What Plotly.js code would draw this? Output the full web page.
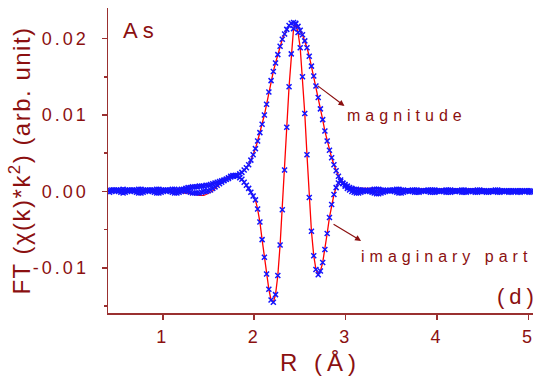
<!DOCTYPE html>
<html><head><meta charset="utf-8">
<script src="https://cdn.plot.ly/plotly-3.0.1.min.js"></script>
<style>
html,body{margin:0;padding:0;background:#fff;}
#chart{width:544px;height:380px;}
.xtick text,.ytick text{letter-spacing:3px;}
.g-xtitle text{letter-spacing:5px;}
.g-ytitle text{letter-spacing:1.5px;}
.annotation-text{letter-spacing:5px;}
</style></head><body><div id="chart"></div>
<script>
// R grid (Å)
const R = [
0.417,0.442,0.466,0.491,0.515,0.540,0.565,0.589,0.614,0.638,
0.663,0.687,0.712,0.736,0.761,0.785,0.810,0.834,0.859,0.884,
0.908,0.933,0.957,0.982,1.006,1.031,1.055,1.080,1.104,1.129,
1.154,1.178,1.203,1.227,1.252,1.276,1.301,1.325,1.350,1.374,
1.399,1.424,1.448,1.473,1.497,1.522,1.546,1.571,1.595,1.620,
1.644,1.669,1.694,1.718,1.743,1.767,1.792,1.816,1.841,1.865,
1.890,1.914,1.939,1.963,1.988,2.013,2.037,2.062,2.086,2.111,
2.135,2.160,2.184,2.209,2.233,2.258,2.283,2.307,2.332,2.356,
2.381,2.405,2.430,2.454,2.479,2.503,2.528,2.553,2.577,2.602,
2.626,2.651,2.675,2.700,2.724,2.749,2.773,2.798,2.823,2.847,
2.872,2.896,2.921,2.945,2.970,2.994,3.019,3.043,3.068,3.093,
3.117,3.142,3.166,3.191,3.215,3.240,3.264,3.289,3.313,3.338,
3.362,3.387,3.412,3.436,3.461,3.485,3.510,3.534,3.559,3.583,
3.608,3.632,3.657,3.682,3.706,3.731,3.755,3.780,3.804,3.829,
3.853,3.878,3.902,3.927,3.952,3.976,4.001,4.025,4.050,4.074,
4.099,4.123,4.148,4.172,4.197,4.222,4.246,4.271,4.295,4.320,
4.344,4.369,4.393,4.418,4.442,4.467,4.492,4.516,4.541,4.565,
4.590,4.614,4.639,4.663,4.688,4.712,4.737,4.761,4.786,4.810,
4.835,4.860,4.884,4.909,4.933,4.958,4.982,5.007,5.031];

// values in units of 1e-4
const magData = [
2,2,2,2,2,2,3,2,2,2,
2,2,2,3,3,2,2,2,2,2,
2,3,3,2,2,2,2,2,3,3,
2,2,3,3,4,5,5,6,6,6,
7,7,7,8,8,9,10,11,12,13,
14,15,16,18,20,21,21,21,23,25,
28,31,35,41,48,56,66,77,88,100,
114,130,145,157,168,179,190,199,206,212,
217,220,221,220,216,211,205,197,188,177,
164,151,138,123,108,94,79,66,54,44,
35,27,20,15,11,9,7,5,4,3,
3,2,2,2,1,1,2,2,3,3,
3,2,2,1,1,1,2,2,3,3,
2,2,1,1,1,2,2,2,1,1,
1,1,2,2,2,2,1,1,1,1,
2,2,2,1,1,1,1,2,2,1,
1,1,1,1,2,2,1,1,1,1,
1,1,2,2,1,1,1,1,1,1,
1,1,1,1,1,1,1,1,1];

const imagData = [
-1,0,1,1,0,-1,-2,-1,0,1,
1,0,-1,-2,-2,-1,0,1,1,0,
-1,-2,-2,-1,0,1,1,0,-1,-2,
-2,-1,0,1,1,0,-1,-2,-2,-2,
-2,-1,0,0,1,2,4,6,8,10,
12,14,16,17,19,20,21,20,18,16,
12,8,4,-1,-6,-11,-23,-40,-63,-86,
-108,-128,-142,-145,-135,-110,-70,-24,28,84,
137,180,213,219,208,188,150,102,48,-8,
-52,-84,-102,-109,-104,-93,-76,-55,-34,-17,
-4,5,11,13,10,7,4,2,0,-1,
-2,-2,-1,0,1,1,0,-1,-2,-3,
-3,-2,-1,0,1,2,1,0,-1,-2,
-2,-1,0,1,1,0,-1,-1,-1,0,
1,1,0,-1,-1,-1,0,0,1,0,
-1,-1,-1,0,0,1,0,-1,-1,-1,
0,1,0,-1,-1,0,0,0,-1,-1,
0,0,0,-1,-1,0,0,0,-1,-1,
0,0,-1,-1,0,0,0,-1,-1];

const magFit = [
2,2,2,2,2,2,2,2,2,2,
2,2,2,2,2,2,2,2,2,2,
2,2,2,2,2,2,2,2,3,3,
3,3,4,4,5,5,6,6,6,7,
7,7,8,8,8,9,10,11,12,13,
14,15,17,19,21,22,22,22,23,25,
28,31,35,41,48,56,66,77,88,100,
114,130,145,157,168,179,190,199,206,212,
217,220,221,220,216,211,205,197,188,177,
164,151,138,123,108,94,79,66,54,44,
35,27,21,16,12,9,7,6,5,5,
4,4,4,4,4,4,4,4,4,4,
4,4,3,3,3,3,3,3,3,3,
3,3,3,3,3,3,3,3,3,3,
3,3,3,3,3,3,3,3,3,3,
3,3,3,3,3,3,3,3,3,3,
3,3,3,3,3,3,3,3,2,2,
2,2,2,2,2,2,2,2,2,2,
2,2,2,2,2,2,2,2,2];

const imagFit = [
-1,0,1,1,0,-1,-1,-1,0,1,
1,0,-1,-1,-1,-1,0,1,1,0,
-1,-1,-1,-1,0,0,0,0,-1,-1,
-1,-1,-1,-2,-2,-2,-3,-3,-4,-4,
-5,-5,-5,-4,-3,-1,1,4,7,9,
12,14,17,19,21,22,21,20,18,16,
12,8,4,-1,-6,-11,-23,-40,-63,-86,
-108,-128,-142,-145,-135,-110,-70,-24,28,84,
137,180,213,219,208,188,150,102,48,-8,
-52,-84,-102,-109,-104,-93,-76,-55,-34,-17,
-4,5,11,13,10,7,4,2,1,0,
0,-1,-1,-1,0,0,0,0,-1,-1,
-1,-1,0,0,1,1,0,0,-1,-1,
0,0,0,0,0,0,0,0,0,0,
0,0,0,0,0,0,0,0,0,0,
0,0,0,0,0,0,0,0,0,0,
0,0,0,0,0,0,0,0,0,0,
0,0,0,0,0,0,0,0,0,0,
0,0,0,0,0,0,0,0,0];

const UNIT = 1e-4;
const xTickVals = [1,2,3,4,5];
const yTickVals = [-0.01,0,0.01,0.02];
const yTickText = ['-0.01','0.00','0.01','0.02'];
const yMinorVals = [-0.015,-0.005,0.005,0.015];
const elementLabel = 'As';
const panelLabel = '(d)';
const magLabel = 'magnitude';
const imagLabel = 'imaginary part';

const TXT = '#8b1010';
const AX = '#9a3030';
const FONT = 'Liberation Sans, Arial, sans-serif';
const sc = a => a.map(v => v*UNIT);

const fitStyle = {mode:'lines', line:{color:'#ff0000', width:1.3}, hoverinfo:'skip'};
const dataStyle = {mode:'markers', marker:{symbol:'x-thin', size:5, color:'#1414ff', line:{color:'#1414ff', width:1.5}}, hoverinfo:'skip'};

const traces = [
  Object.assign({x:R, y:sc(magFit), name:'magnitude fit'}, fitStyle),
  Object.assign({x:R, y:sc(imagFit), name:'imaginary fit'}, fitStyle),
  Object.assign({x:R, y:sc(magData), name:'magnitude data'}, dataStyle),
  Object.assign({x:R, y:sc(imagData), name:'imaginary data'}, dataStyle)
];

const layout = {
  width:544, height:380,
  margin:{l:108, r:11, t:8, b:67},
  paper_bgcolor:'#fff', plot_bgcolor:'#fff',
  showlegend:false,
  font:{family:FONT, color:TXT, size:18},
  xaxis:{
    range:[0.4,5.05], tickmode:'array', tickvals:xTickVals,
    ticks:'outside', ticklen:5, tickwidth:1.5, tickcolor:AX,
    showline:true, linecolor:AX, linewidth:1.5,
    showgrid:false, zeroline:false, ticklabelstandoff:2,
    tickfont:{size:18, color:TXT, family:FONT},
    title:{text:'R (Å)', font:{size:24, color:TXT, family:FONT}, standoff:8}
  },
  yaxis:{
    range:[-0.0159,0.024], tickmode:'array', tickvals:yTickVals, ticktext:yTickText,
    ticks:'outside', ticklen:5, tickwidth:1.5, tickcolor:AX,
    minor:{tickmode:'array', tickvals:yMinorVals, ticks:'outside', ticklen:3, tickwidth:1.5, tickcolor:AX, showgrid:false},
    showline:true, linecolor:AX, linewidth:1.5,
    showgrid:false, zeroline:false, ticklabelstandoff:9,
    tickfont:{size:18, color:TXT, family:FONT},
    title:{text:'FT (χ(k)*k<sup>2</sup>) (arb. unit)', font:{size:24, color:TXT, family:FONT}, standoff:2}
  },
  annotations:[
    {x:0.54, y:0.0211, xref:'x', yref:'y', xanchor:'left', yanchor:'middle', text:elementLabel, showarrow:false, font:{size:22, color:TXT, family:FONT}},
    {x:1, y:-0.0138, xref:'paper', yref:'y', xanchor:'right', yanchor:'middle', xshift:8, text:panelLabel, showarrow:false, font:{size:22, color:TXT, family:FONT}},
    {x:2.99, y:0.0100, xref:'x', yref:'y', xanchor:'left', yanchor:'middle', text:magLabel, showarrow:false, font:{size:16, color:TXT, family:FONT}},
    {x:3.15, y:-0.0085, xref:'x', yref:'y', xanchor:'left', yanchor:'middle', text:imagLabel, showarrow:false, font:{size:16, color:TXT, family:FONT}},
    {x:2.987, y:0.01118, ax:2.659, ay:0.01414, xref:'x', yref:'y', axref:'x', ayref:'y', text:' ', showarrow:true, arrowhead:2, arrowsize:1, arrowwidth:1.2, arrowcolor:TXT, standoff:0, startstandoff:0, font:{size:2}},
    {x:3.169, y:-0.00647, ax:2.823, ay:-0.00395, xref:'x', yref:'y', axref:'x', ayref:'y', text:' ', showarrow:true, arrowhead:2, arrowsize:1, arrowwidth:1.2, arrowcolor:TXT, standoff:0, startstandoff:0, font:{size:2}}
  ],
  hovermode:false
};

Plotly.newPlot('chart', traces, layout, {staticPlot:true, displayModeBar:false}).then(gd => {
  const g = gd.querySelector('.g-ytitle');
  if (g) g.setAttribute('transform', 'translate(7,0)');
});
</script>
</body></html>
